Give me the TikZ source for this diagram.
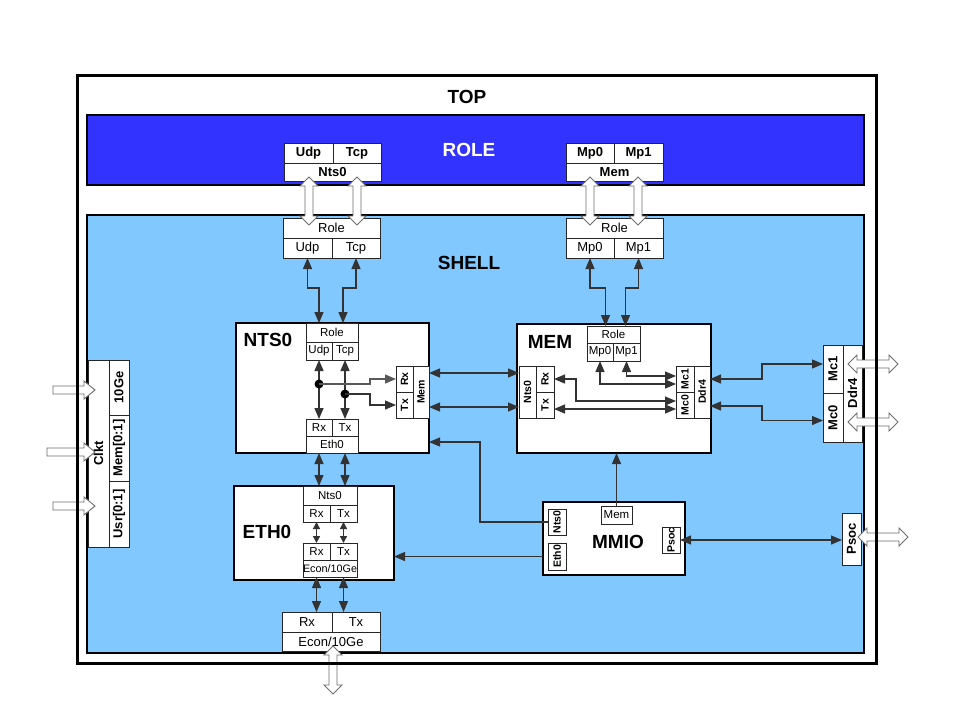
\documentclass[tikz,border=0pt]{standalone}
\usepackage{fontspec}
\setmainfont{Liberation Sans}
\usepackage{graphicx}
\usetikzlibrary{arrows.meta,calc}
\definecolor{roleblue}{RGB}{51,51,255}
\definecolor{shellblue}{RGB}{128,200,255}
\definecolor{hollowgray}{RGB}{110,110,110}
\tikzset{
 cellst/.style={draw=black!85,fill=white,line width=0.8pt,inner sep=0pt,outer sep=0pt},
 fb/.style={font=\bfseries\fontsize{13}{13}\selectfont},
 fr/.style={font=\fontsize{13}{13}\selectfont},
 fbig/.style={font=\bfseries\fontsize{13}{13}\selectfont},
 sb/.style={font=\bfseries\fontsize{10.5}{10.5}\selectfont},
 sr/.style={font=\fontsize{11.5}{11.5}\selectfont},
 block/.style={draw=black,fill=white,line width=2pt},
 blocklabel/.style={font=\bfseries\fontsize{19}{19}\selectfont},
 conn/.style={draw=black!80,line width=1.3pt},
 biarr/.style={conn,{Triangle[length=11pt,width=9pt]}-{Triangle[length=11pt,width=9pt]}},
 shortarr/.style={conn,{Triangle[length=7pt,width=7pt]}-{Triangle[length=7pt,width=7pt]}},
 onearr/.style={conn,-{Triangle[length=11pt,width=9pt]}},
 hollow/.style={draw=hollowgray,fill=white,line width=0.9pt,line join=miter},
}
\newcommand\cellbox[7][]{\node[cellst,#1,anchor=north west,minimum width={(#5)-(#3)},minimum height={(#6)-(#4)}] (#2) at (#3,#4) {#7};}
\newcommand\hollowv[3]{\draw[hollow] (#1,#2) -- ++(9,9) -- ++(-5,0) -- (#1+4,#3-9) -- ++(5,0) -- (#1,#3) -- ++(-9,-9) -- ++(5,0) -- (#1-4,#2+9) -- ++(-5,0) -- cycle;}
\newcommand\hollowh[3]{\draw[hollow] (#1,#3) -- ++(9,-9) -- ++(0,5) -- (#2-9,#3-4) -- ++(0,-5) -- (#2,#3) -- ++(-9,9) -- ++(0,-5) -- (#1+9,#3+4) -- ++(0,5) -- cycle;}
\newcommand\hollowr[3]{\draw[hollow] (#1,#3-4) -- (#2-11,#3-4) -- ++(0,-5) -- (#2,#3) -- ++(-11,9) -- ++(0,-5) -- (#1,#3+4) -- cycle;}
\newcommand\rt[1]{\rotatebox{90}{#1}}
\begin{document}
\begin{tikzpicture}[x=1pt,y=-1pt]
\useasboundingbox (0,0) rectangle (961,721);
\fill[white] (0,0) rectangle (961,721);
% frames
\fill[white] (77,75) rectangle (876,663);
\node[blocklabel] (toplbl) at (467,97) {TOP};
\cellbox[draw=black,fill=roleblue,line width=1.2pt]{role}{87}{115}{864}{185}{}
\node[blocklabel,text=white] (rolelbl) at (469,150) {ROLE};
\cellbox[draw=black,fill=shellblue,line width=1.2pt]{shell}{87}{215}{864}{653}{}
\node[blocklabel] (shelllbl) at (469,263) {SHELL};
% role band interfaces
\cellbox[fb]{rUdp}{284}{143}{333}{163}{Udp}
\cellbox[fb]{rTcp}{333}{143}{381}{163}{Tcp}
\cellbox[fb]{rNts}{284}{163}{381}{181}{Nts0}
\cellbox[fb]{rMp0}{566}{143}{614}{163}{Mp0}
\cellbox[fb]{rMp1}{614}{143}{663}{163}{Mp1}
\cellbox[fb]{rMem}{566}{163}{663}{181}{Mem}
% shell-side role interfaces
\cellbox[fr]{sRole1}{283}{218}{380}{238}{Role}
\cellbox[fr]{sUdp}{283}{238}{332}{258}{Udp}
\cellbox[fr]{sTcp}{332}{238}{380}{258}{Tcp}
\cellbox[fr]{sRole2}{566}{218}{663}{238}{Role}
\cellbox[fr]{sMp0}{566}{238}{614}{258}{Mp0}
\cellbox[fr]{sMp1}{614}{238}{663}{258}{Mp1}
% NTS0
\cellbox[block]{nts}{236}{323}{429}{453}{}
\node[blocklabel] (ntslbl) at (268,340) {NTS0};
\cellbox[sr]{nRole}{306}{323}{358}{342}{Role}
\cellbox[sr]{nUdp}{306}{342}{332}{360}{Udp}
\cellbox[sr]{nTcp}{332}{342}{358}{360}{Tcp}
\cellbox[sr]{nRx}{306}{419}{332}{436}{Rx}
\cellbox[sr]{nTx}{332}{419}{358}{436}{Tx}
\cellbox[sr]{nEth}{306}{436}{358}{453}{Eth0}
\cellbox[sb]{nMRx}{396}{366}{413}{392}{\rt{Rx}}
\cellbox[sb]{nMTx}{396}{392}{413}{418}{\rt{Tx}}
\cellbox[sb]{nMem}{413}{366}{429}{418}{\rt{Mem}}
% MEM
\cellbox[block]{mem}{517}{324}{711}{453}{}
\node[blocklabel] (memlbl) at (550,342) {MEM};
\cellbox[sr]{mRole}{587}{326}{640}{343}{Role}
\cellbox[sr]{mMp0}{587}{343}{613}{361}{Mp0}
\cellbox[sr]{mMp1}{613}{343}{640}{361}{Mp1}
\cellbox[sb]{mNts}{519}{366}{536}{418}{\rt{Nts0}}
\cellbox[sb]{mRx}{536}{366}{554}{392}{\rt{Rx}}
\cellbox[sb]{mTx}{536}{392}{554}{418}{\rt{Tx}}
\cellbox[sb]{mMc1}{676}{366}{694}{392}{\rt{Mc1}}
\cellbox[sb]{mMc0}{676}{392}{694}{418}{\rt{Mc0}}
\cellbox[sb]{mDdr}{694}{366}{710}{418}{\rt{Ddr4}}
% right Ddr4
\cellbox[fbig]{dMc1}{823}{345}{843}{393}{\rt{Mc1}}
\cellbox[fbig]{dMc0}{823}{393}{843}{442}{\rt{Mc0}}
\cellbox[fbig]{dDdr}{843}{345}{862}{442}{\rt{Ddr4}}
% left Clkt
\cellbox[fb]{cClk}{88}{360}{109}{547}{\rt{Clkt}}
\cellbox[fb]{c10}{109}{360}{129}{415}{\rt{10Ge}}
\cellbox[fb]{cMem}{109}{415}{129}{481}{\rt{Mem[0:1]}}
\cellbox[fb]{cUsr}{109}{481}{129}{547}{\rt{Usr[0:1]}}
% ETH0
\cellbox[block]{eth}{234}{486}{394}{580}{}
\node[blocklabel] (ethlbl) at (267,532) {ETH0};
\cellbox[sr]{eNts}{303}{486}{357}{505}{Nts0}
\cellbox[sr]{eRx}{303}{505}{330}{522}{Rx}
\cellbox[sr]{eTx}{330}{505}{357}{522}{Tx}
\cellbox[sr]{eRx2}{303}{543}{330}{560}{Rx}
\cellbox[sr]{eTx2}{330}{543}{357}{560}{Tx}
\cellbox[font=\fontsize{10.8}{10.8}\selectfont]{eEcon}{303}{560}{357}{577}{Econ/10Ge}
% bottom Econ
\cellbox[fr]{bRx}{282}{612}{332}{632}{Rx}
\cellbox[fr]{bTx}{332}{612}{380}{632}{Tx}
\cellbox[fr]{bEcon}{282}{632}{380}{651}{Econ/10Ge}
% MMIO
\cellbox[block]{mmio}{543}{502}{685}{575}{}
\node[blocklabel] (mmiolbl) at (618,542) {MMIO};
\cellbox[sb]{xNts}{548}{509}{566}{535}{\rt{Nts0}}
\cellbox[sb]{xEth}{548}{543}{566}{570}{\rt{Eth0}}
\cellbox[sr]{xMem}{601}{506}{632}{524}{Mem}
\cellbox[sb]{xPsoc}{662}{527}{680}{553}{\rt{Psoc}}
% right Psoc
\cellbox[fb]{pPsoc}{842}{513}{861}{565}{\rt{Psoc}}
% connectors: shell role -> blocks
\draw[biarr] (sUdp.south) -- ++(0,30) -| ([xshift=-13pt]nRole.north);
\draw[biarr] (sTcp.south) -- ++(0,30) -| ([xshift=11pt]nRole.north);
\draw[biarr] (sMp0.south) -- ++(0,30) -| ([xshift=-8pt]mRole.north);
\draw[biarr] (sMp1.south) -- ++(0,30) -| ([xshift=12pt]mRole.north);
% NTS0 internal
\draw[biarr] (nUdp.south) -- (nRx.north);
\draw[biarr] (nTcp.south) -- (nTx.north);
\path (nUdp.south) ++(0,24) coordinate (d1);
\path (nTcp.south) ++(0,34) coordinate (d2);
\fill[black] (d1) circle (4.5pt);
\fill[black] (d2) circle (4.5pt);
\draw[onearr,draw=black!65] (d1) -- ++(51,0) |- (nMRx.west);
\draw[onearr] (d2) -- ++(25,0) |- (nMTx.west);
% NTS0 <-> MEM
\draw[biarr] ([yshift=19pt]nMem.east) -- ([yshift=19pt]nMem.east -| mNts.west);
\draw[biarr] ([yshift=-15pt]nMem.east) -- ([yshift=-15pt]nMem.east -| mNts.west);
% MEM internal
\draw[biarr] (mMp0.south) |- ([yshift=-5pt]mMc1.west);
\draw[biarr] (mMp1.south) |- ([yshift=3pt]mMc1.west);
\draw[biarr] (mRx.east) -- ++(22,0) |- ([yshift=4pt]mMc0.west);
\draw[biarr] ([yshift=-4pt]mTx.east) -- ([yshift=-4pt]mMc0.west);
% MEM <-> Ddr4
\draw[biarr] ([yshift=13pt]mDdr.east) -- ++(52,0) |- ([yshift=5pt]dMc1.west);
\draw[biarr] ([yshift=-14pt]mDdr.east) -- ++(52,0) |- ([yshift=-3pt]dMc0.west);
% MMIO
\draw[onearr] (xMem.north) -- (xMem.north |- mem.south);
\draw[onearr] (xNts.west) -- ++(-68,0) |- ([yshift=-54pt]nts.east);
\draw[onearr] (mmio.west |- xEth.west) -- (eth.east |- xEth.west);
\draw[biarr] (xPsoc.east) -- (xPsoc.east -| pPsoc.west);
% NTS0 <-> ETH0
\draw[biarr] (nRx |- nEth.south) -- (nRx |- eNts.north);
\draw[biarr] (nTx |- nEth.south) -- (nTx |- eNts.north);
\draw[shortarr] (eRx.south) -- (eRx2.north);
\draw[shortarr] (eTx.south) -- (eTx2.north);
\draw[biarr] (eRx2 |- eEcon.south) -- (eRx2 |- bRx.north);
\draw[biarr] (eTx2 |- eEcon.south) -- (eTx2 |- bTx.north);
% hollow arrows
\hollowv{309}{177}{225}
\hollowv{357}{177}{225}
\hollowv{590}{177}{225}
\hollowv{638}{177}{225}
\hollowh{848}{898}{364}
\hollowh{848}{898}{422}
\hollowh{858}{908}{537}
\hollowv{333}{646}{694}
\hollowr{53}{95}{390}
\hollowr{47}{95}{452}
\hollowr{53}{95}{506}
% TOP frame on top
\draw[black,line width=3pt] (77,75) rectangle (876,663);
\end{tikzpicture}
\end{document}
